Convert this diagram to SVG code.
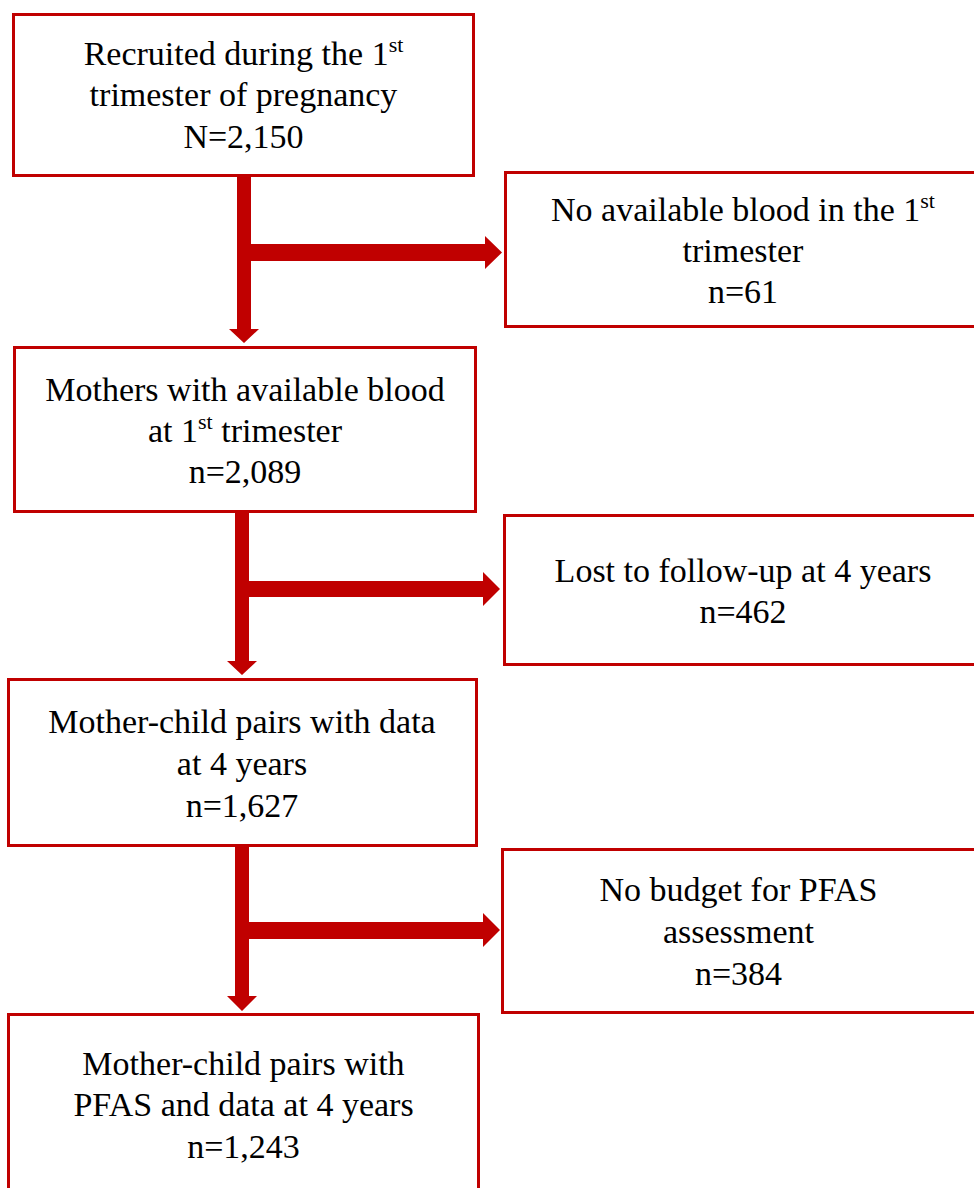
<svg xmlns="http://www.w3.org/2000/svg" width="974" height="1188" viewBox="0 0 974 1188" font-family="Liberation Serif, Times New Roman, serif">
<style>
.box{fill:#fff;stroke:#C00000;stroke-width:3}
.t{font-family:'Liberation Serif','Times New Roman',serif;font-size:34px;fill:#000;text-anchor:middle}
.sup{font-size:22px}
.arr{fill:#C00000;stroke:none}
</style>
<rect width="974" height="1188" fill="#fff"/>
<g id="connectors">
<path class="arr" d="M237,177 H251 V244 H485 V236 L502,252.5 L485,269 V261 H251 V329 H259 L244,343 L229,329 H237 Z"/>
<path class="arr" d="M235,513 H249 V581 H483 V572 L500,589 L483,606 V597 H249 V661 H257 L242,675 L227,661 H235 Z"/>
<path class="arr" d="M235,847 H249 V922 H483 V913 L500,930 L483,947 V939 H249 V996 H257 L242,1011 L227,996 H235 Z"/>
</g>
<g id="n1">
<rect class="box" x="13.5" y="14.5" width="460" height="161"/>
<text class="t" x="243.5" y="65">Recruited during the 1<tspan class="sup" dy="-13">st</tspan></text>
<text class="t" x="243.5" y="106">trimester of pregnancy</text>
<text class="t" x="243.5" y="148">N=2,150</text>
</g>
<g id="n2">
<rect class="box" x="505.5" y="172.5" width="475" height="154"/>
<text class="t" x="743" y="221">No available blood in the 1<tspan class="sup" dy="-13">st</tspan></text>
<text class="t" x="743" y="262">trimester</text>
<text class="t" x="743" y="303">n=61</text>
</g>
<g id="n3">
<rect class="box" x="14.5" y="347.5" width="461" height="164"/>
<text class="t" x="245" y="401">Mothers with available blood</text>
<text class="t" x="245" y="442">at 1<tspan class="sup" dy="-13">st</tspan><tspan dy="13"> trimester</tspan></text>
<text class="t" x="245" y="483">n=2,089</text>
</g>
<g id="n4">
<rect class="box" x="504.5" y="515.5" width="475" height="149"/>
<text class="t" x="743" y="582">Lost to follow-up at 4 years</text>
<text class="t" x="743" y="623">n=462</text>
</g>
<g id="n5">
<rect class="box" x="8.5" y="679.5" width="468" height="166"/>
<text class="t" x="242" y="733">Mother-child pairs with data</text>
<text class="t" x="242" y="775">at 4 years</text>
<text class="t" x="242" y="817">n=1,627</text>
</g>
<g id="n6">
<rect class="box" x="502.5" y="849.5" width="475" height="163"/>
<text class="t" x="738.5" y="901">No budget for PFAS</text>
<text class="t" x="738.5" y="943">assessment</text>
<text class="t" x="738.5" y="985">n=384</text>
</g>
<g id="n7">
<rect class="box" x="8.5" y="1014.5" width="470" height="200"/>
<text class="t" x="243.5" y="1075">Mother-child pairs with</text>
<text class="t" x="243.5" y="1116">PFAS and data at 4 years</text>
<text class="t" x="243.5" y="1158">n=1,243</text>
</g>
</svg>
